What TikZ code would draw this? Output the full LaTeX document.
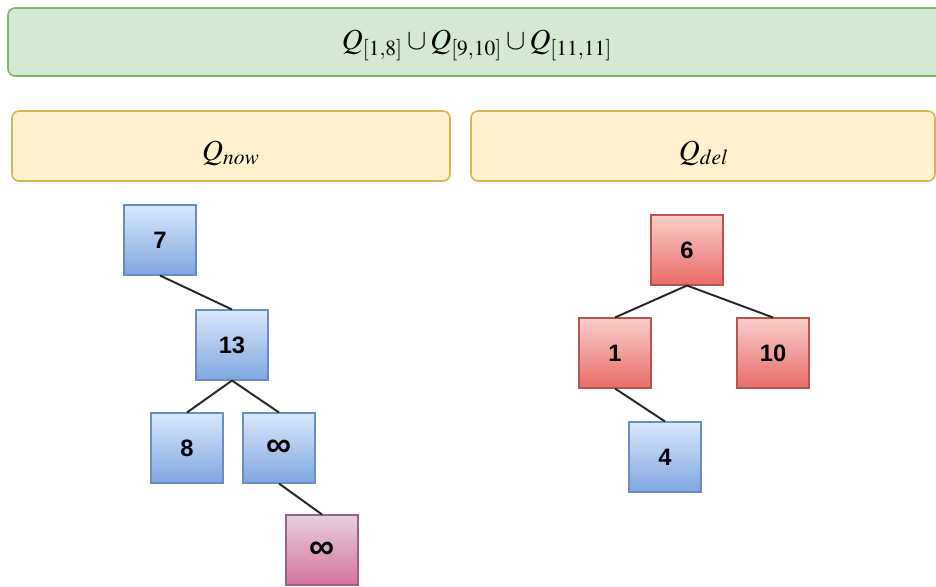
\documentclass[tikz,border=0pt]{standalone}
\usepackage[no-math]{fontspec}
\setmainfont{Liberation Serif}
\setsansfont{Liberation Sans}
\usepackage{mathptmx}
\usepackage{tikz}
\usetikzlibrary{calc}
\definecolor{bandfill}{HTML}{D5E8D4}
\definecolor{banddraw}{HTML}{82B366}
\definecolor{headfill}{HTML}{FFF2CC}
\definecolor{headdraw}{HTML}{D6B656}
\definecolor{bluetop}{HTML}{DAE8FC}
\definecolor{bluebot}{HTML}{7EA6E0}
\definecolor{bluedraw}{HTML}{6C8EBF}
\definecolor{redtop}{HTML}{F8CECC}
\definecolor{redbot}{HTML}{EA6B66}
\definecolor{reddraw}{HTML}{B85450}
\definecolor{pinktop}{HTML}{E6D0DE}
\definecolor{pinkbot}{HTML}{D5739D}
\definecolor{pinkdraw}{HTML}{996185}
\newcommand{\biginf}{\raisebox{-2pt}{\fontsize{20}{20}\selectfont ∞}}
\tikzset{
  band/.style={draw=banddraw, fill=bandfill, line width=0.9pt, rounded corners=4pt},
  head/.style={draw=headdraw, fill=headfill, line width=0.9pt, rounded corners=4pt},
  htext/.style={font=\fontsize{16.5}{18}\selectfont},
  key/.style={minimum width=1.44cm, minimum height=1.4cm, line width=0.6pt,
    font=\sffamily\bfseries\fontsize{13.5}{15}\selectfont},
  bluekey/.style={key, draw=bluedraw, top color=bluetop, bottom color=bluebot},
  redkey/.style={key, draw=reddraw, top color=redtop, bottom color=redbot},
  pinkkey/.style={key, draw=pinkdraw, top color=pinktop, bottom color=pinkbot},
  edge/.style={line width=1.1pt, draw=black!85},
}

\begin{document}
\begin{tikzpicture}[x=0.02cm, y=-0.02cm]
  \useasboundingbox (0,0) rectangle (936,586);

  % header boxes
  \draw[band] (8,8) rectangle (950,76);
  \node[htext] (union) at (477,45) {$Q_{[1,8]}\cup Q_{[9,10]}\cup Q_{[11,11]}$};
  \draw[head] (12,111) rectangle (450,181);
  \node[htext] (qnow) at (231,153) {$Q_{now}$};
  \draw[head] (471,111) rectangle (935,181);
  \node[htext] (qdel) at (704,153) {$Q_{del}$};

  % Q_now tree
  \node[bluekey] (n7) at (160,240) {7};
  \node[bluekey] (n13) at (232,345) {13};
  \node[bluekey] (n8) at (187,448) {8};
  \node[bluekey] (ninf) at (279,448) {\biginf};
  \node[pinkkey] (pinf) at (322,550) {\biginf};

  \draw[edge] (n7.south) -- (n13.north);
  \draw[edge] (n13.south) -- (n8.north);
  \draw[edge] (n13.south) -- (ninf.north);
  \draw[edge] (ninf.south) -- (pinf.north);

  % Q_del tree
  \node[redkey] (d6) at (687,250) {6};
  \node[redkey] (d1) at (615,353) {1};
  \node[redkey] (d10) at (773,353) {10};
  \node[bluekey] (d4) at (665,457) {4};

  \draw[edge] (d6.south) -- (d1.north);
  \draw[edge] (d6.south) -- (d10.north);
  \draw[edge] (d1.south) -- (d4.north);
\end{tikzpicture}
\end{document}
